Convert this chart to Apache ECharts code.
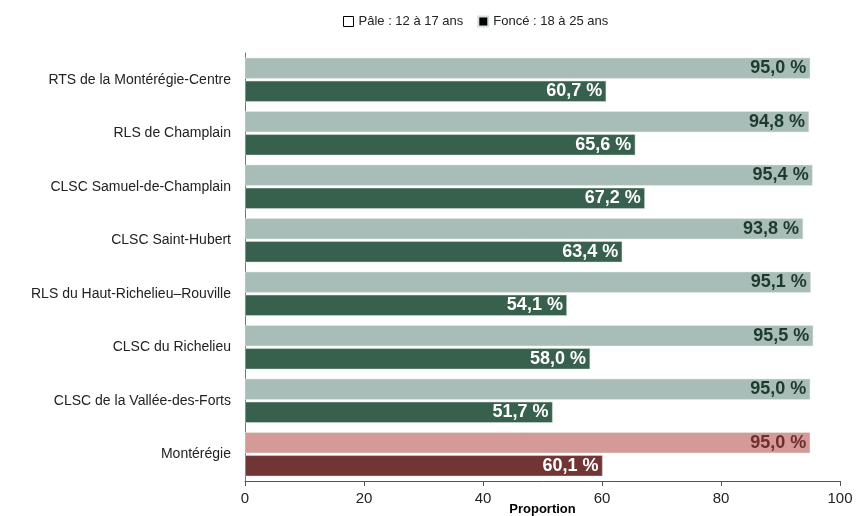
<!DOCTYPE html>
<html>
<head>
<meta charset="utf-8">
<script src="https://cdn.jsdelivr.net/npm/echarts@6/dist/echarts.min.js"></script>
<style>
  html, body { margin: 0; padding: 0; background: #fff; }
  #chart { width: 856px; height: 516px; }
</style>
</head>
<body>
<div id="chart"></div>
<script>
const categories = [
  "RTS de la Montérégie-Centre",
  "RLS de Champlain",
  "CLSC Samuel-de-Champlain",
  "CLSC Saint-Hubert",
  "RLS du Haut-Richelieu\u2013Rouville",
  "CLSC du Richelieu",
  "CLSC de la Vallée-des-Forts",
  "Montérégie"
];
const pale1217 = [95.0, 94.8, 95.4, 93.8, 95.1, 95.5, 95.0, 95.0];
const fonce1825 = [60.7, 65.6, 67.2, 63.4, 54.1, 58.0, 51.7, 60.1];
const xTicks = [0, 20, 40, 60, 80, 100];

// la dernière ligne (région) en rouge
const regionName = "Montérégie";
const fmt = v => v.toFixed(1).replace(".", ",") + " %";

const paleData = pale1217.map((v, i) => {
  const reg = categories[i] === regionName;
  return {
    value: v,
    itemStyle: { color: reg ? "#d49a98" : "#a8bdb8" },
    label: { color: reg ? "#6b2f2f" : "#1d3a2c" }
  };
});
const darkData = fonce1825.map((v, i) => {
  const reg = categories[i] === regionName;
  return {
    value: v,
    itemStyle: { color: reg ? "#723535" : "#38614d" }
  };
});

const chart = echarts.init(document.getElementById("chart"));
chart.setOption({
  animation: false,
  textStyle: { fontFamily: "Liberation Sans" },
  legend: {
    top: 10,
    left: 338,
    itemWidth: 10,
    itemHeight: 10,
    itemGap: 14,
    icon: "rect",
    textStyle: { fontSize: 13, color: "#222" },
    data: [
      { name: "Pâle : 12 à 17 ans", itemStyle: { color: "#fff", borderColor: "#000", borderWidth: 1 } },
      { name: "Foncé : 18 à 25 ans", itemStyle: { color: "#000" } }
    ]
  },
  grid: { left: 245, right: 16, top: 53, bottom: 35, outerBoundsMode: "none", containLabel: false },
  xAxis: {
    type: "value",
    min: xTicks[0],
    max: xTicks[xTicks.length - 1],
    interval: 20,
    name: "Proportion",
    nameLocation: "middle",
    nameGap: 22,
    nameMoveOverlap: false,
    nameTextStyle: { fontSize: 13, fontWeight: "bold", color: "#000", verticalAlign: "top" },
    axisLine: { show: true, lineStyle: { color: "#555" } },
    axisTick: { show: true, length: 5, lineStyle: { color: "#555" } },
    axisLabel: { fontSize: 15, color: "#222", margin: 10 },
    splitLine: { show: false }
  },
  yAxis: {
    type: "category",
    inverse: true,
    data: categories,
    axisLine: { show: true, lineStyle: { color: "#777" } },
    axisTick: { show: false },
    axisLabel: { fontSize: 14, color: "#222", margin: 14 }
  },
  series: [
    {
      name: "Pâle : 12 à 17 ans",
      type: "bar",
      data: paleData,
      barWidth: 21,
      barGap: "10%",
      itemStyle: { color: "#a8bdb8", borderColor: "#e6ece9", borderWidth: 0.5 },
      label: {
        show: true,
        position: "insideRight",
        distance: 4,
        fontSize: 18,
        fontWeight: "bold",
        formatter: p => fmt(p.value)
      }
    },
    {
      name: "Foncé : 18 à 25 ans",
      type: "bar",
      data: darkData,
      barWidth: 21,
      itemStyle: { color: "#38614d", borderColor: "#d8e0dc", borderWidth: 0.5 },
      label: {
        show: true,
        position: "insideRight",
        distance: 4,
        fontSize: 18,
        fontWeight: "bold",
        color: "#fff",
        formatter: p => fmt(p.value)
      }
    }
  ]
});
</script>
</body>
</html>
